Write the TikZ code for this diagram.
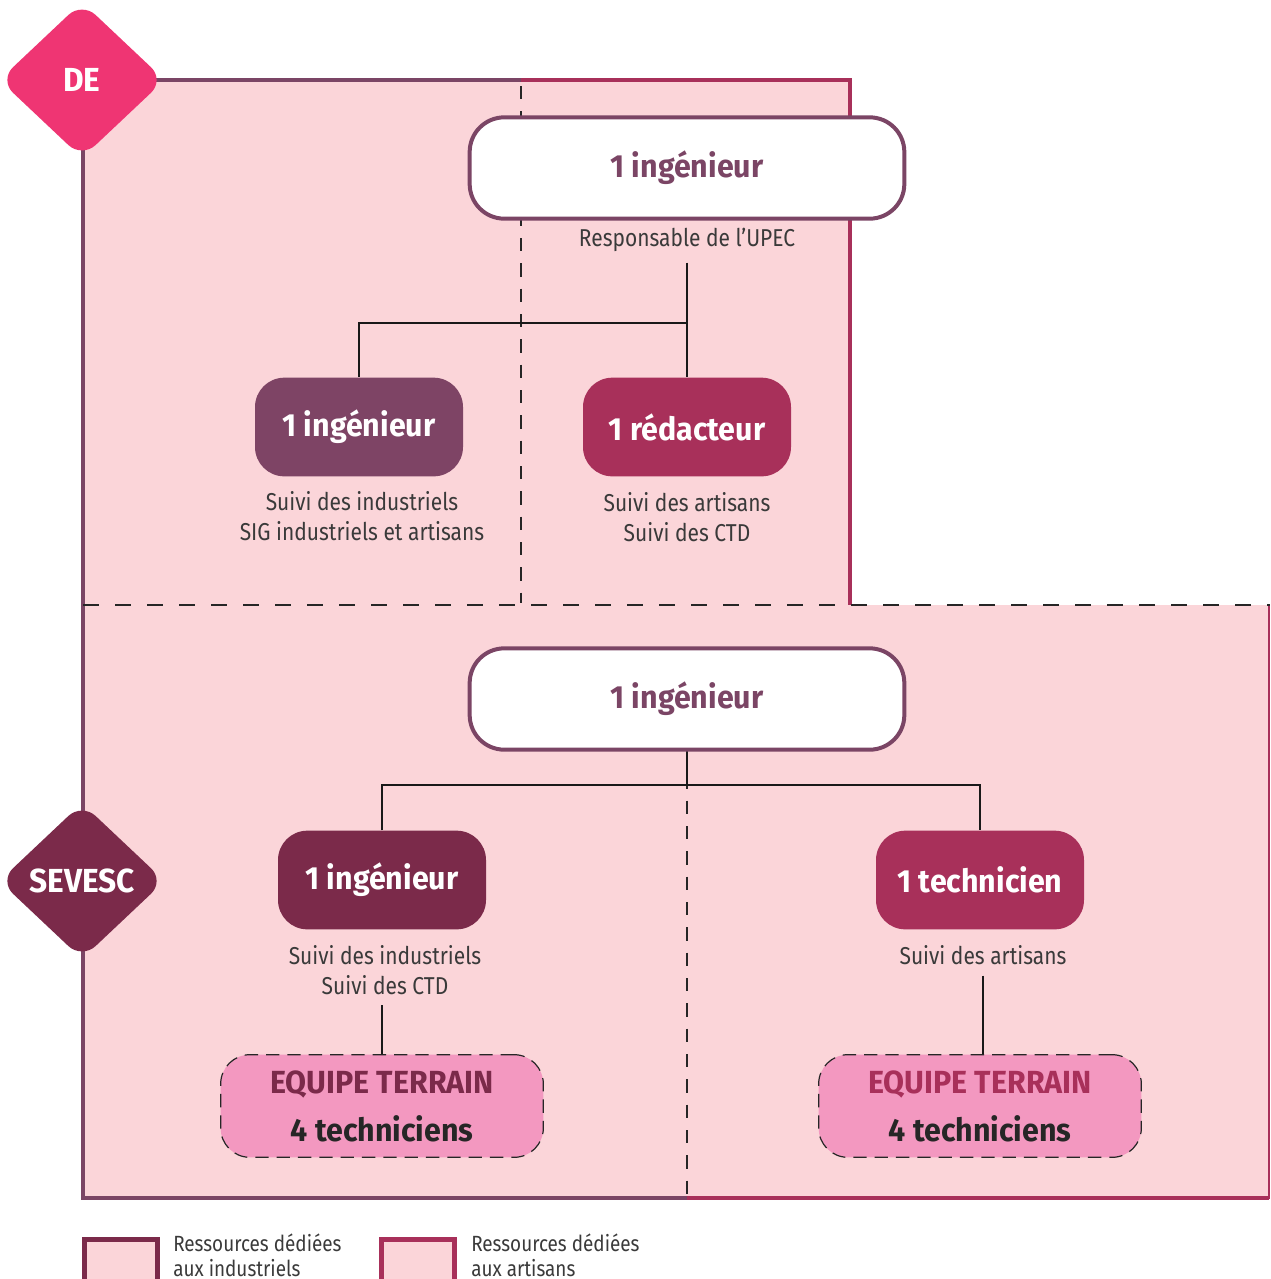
\documentclass[tikz,border=0pt]{standalone}
\usepackage{fontspec}
\setmainfont{Fira Sans}[FakeStretch=0.86]
\newfontfamily\bff{Fira Sans}[FakeStretch=0.95]
\usetikzlibrary{shapes.geometric}
\definecolor{pinkbg}{HTML}{FBD5D9}
\definecolor{indc}{HTML}{7B4565}
\definecolor{artc}{HTML}{A8305A}
\definecolor{dec}{HTML}{EF3573}
\definecolor{sevc}{HTML}{7B2A4A}
\definecolor{boxind}{HTML}{7E4465}
\definecolor{teamc}{HTML}{F398C0}
\definecolor{txtc}{HTML}{3A3A3A}
\tikzset{
  indline/.style={draw=indc, line width=3.6pt},
  artline/.style={draw=artc, line width=3.6pt},
  sepdash/.style={draw=black!85, line width=1.5pt, dash pattern=on 12pt off 12pt},
  coldash/.style={draw=black!85, line width=1pt, dash pattern=on 10pt off 9pt},
  conn/.style={draw=black!90, line width=0.9pt},
  headbox/.style={draw=indc, line width=3pt, fill=white, rounded corners=26pt,
    minimum width=326pt, minimum height=76pt, text=indc, font=\bff\bfseries\fontsize{24}{28}\selectfont},
  rolebox/.style={rounded corners=22pt, minimum width=156pt, minimum height=74pt,
    text=white, font=\bff\bfseries\fontsize{24}{28}\selectfont},
  teambox/.style={draw=black!85, line width=0.9pt, dash pattern=on 10pt off 6pt, fill=teamc,
    rounded corners=22pt, minimum width=242pt, minimum height=77pt, align=center,
    font=\bff\bfseries\fontsize{24}{28}\selectfont},
  desc/.style={align=center, text=txtc, font=\fontsize{18.3}{22}\selectfont, inner sep=8pt},
  tag/.style={diamond, rounded corners=14pt, minimum width=124pt, minimum height=117pt, inner sep=0pt,
    text=white, font=\bff\bfseries\fontsize{25}{29}\selectfont},
  legbox/.style={line width=3.6pt, fill=pinkbg},
  legtxt/.style={align=left, text=txtc, font=\fontsize{16.5}{18.5}\selectfont, inner sep=0pt, anchor=north west}
}
\begin{document}
\begin{tikzpicture}[x=0.75pt,y=-0.75pt]
\useasboundingbox (0,0) rectangle (1271,1279);
\clip (0,0) rectangle (1271,1279);
% regions
\fill[pinkbg] (83,80) rectangle (850,605);
\fill[pinkbg] (83,605) rectangle (1269,1198);
% column separators
\draw[coldash] (521,86) -- (521,603);
\draw[coldash] (687,750) -- (687,1196);
% borders
\draw[indline] (83,605) -- (83,80) -- (521,80);
\draw[artline] (521,80) -- (850,80) -- (850,605);
\draw[indline] (83,605) -- (83,1198) -- (687,1198);
\draw[artline] (687,1198) -- (1269,1198);
\draw[draw=artc, line width=1.8pt] (1269,1199) -- (1269,605);
\draw[sepdash] (83,605) -- (1270,605);
% DE part
\node[headbox] (de0) at (687,168) {1 ingénieur};
\node[desc] (resp) at (687,240) {Responsable de l’UPEC};
\node[rolebox, fill=boxind] (de1) at (359,427) {1 ingénieur};
\node[rolebox, fill=artc] (de2) at (687,427) {1 rédacteur};
\node[desc] (de1t) at (362,516) {Suivi des industriels\\SIG industriels et artisans};
\node[desc] (de2t) at (687,517) {Suivi des artisans\\Suivi des CTD};
\coordinate (j1) at (687,323);
\draw[conn] (resp.south) -- (j1) -| (de1.north);
\draw[conn] (j1) -- (de2.north);
% SEVESC part
\node[headbox] (s0) at (687,699) {1 ingénieur};
\node[rolebox, fill=sevc] (s1) at (382,880) {1 ingénieur};
\node[rolebox, fill=artc] (s2) at (980,880) {1 technicien};
\node[desc] (s1t) at (385,970) {Suivi des industriels\\Suivi des CTD};
\node[desc] (s2t) at (983,955) {Suivi des artisans};
\node[teambox] (t1) at (382,1106) {\textcolor{sevc}{EQUIPE TERRAIN}\\[8pt]\textcolor{black!85}{4 techniciens}};
\node[teambox] (t2) at (980,1106) {\textcolor{artc}{EQUIPE TERRAIN}\\[8pt]\textcolor{black!85}{4 techniciens}};
\coordinate (j2) at (687,785);
\draw[conn] (s0.south) -- (j2);
\draw[conn] (s1.north) |- (j2) -| (s2.north);
\draw[conn] (t1.north) -- (t1.north |- s1t.south);
\draw[conn] (s2t.south) -- (s2t.south |- t2.north);
% tags
\node[tag, fill=dec] (tde) at (82,80) {DE};
\node[tag, fill=sevc] (tsev) at (82,881) {SEVESC};
% legend
\node[legbox, draw=sevc, minimum width=55pt, minimum height=34pt, inner sep=0pt] (lg1) at (121,1262) {};
\node[legtxt] (lg1t) at (173,1234) {Ressources dédiées\\aux industriels};
\node[legbox, draw=artc, minimum width=55pt, minimum height=34pt, inner sep=0pt] (lg2) at (418,1262) {};
\node[legtxt] (lg2t) at (471,1234) {Ressources dédiées\\aux artisans};
\end{tikzpicture}
\end{document}
